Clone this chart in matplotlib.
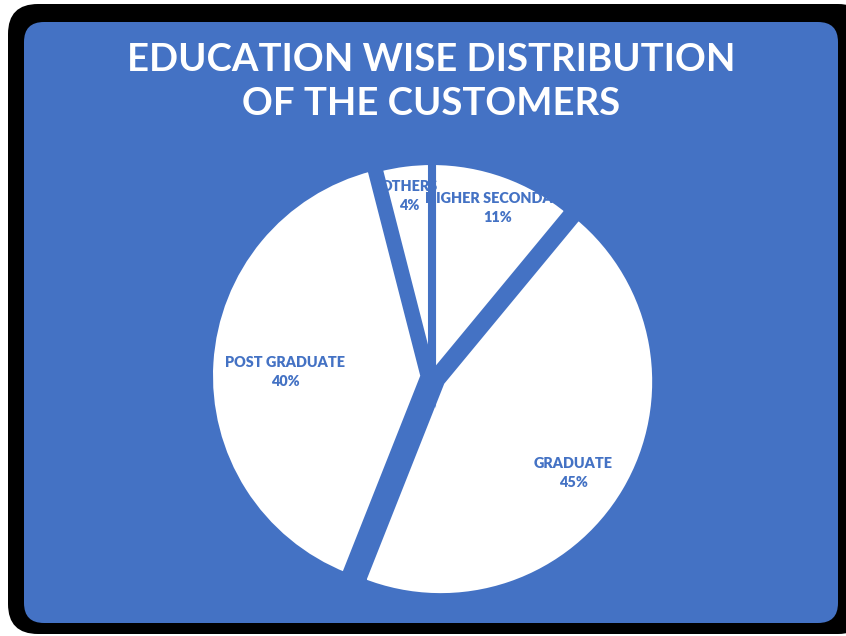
import numpy as np
import matplotlib
matplotlib.use('Agg')
import matplotlib.pyplot as plt
from matplotlib.patches import FancyBboxPatch

# data
categories = ['HIGHER SECONDARY', 'GRADUATE', 'POST GRADUATE', 'OTHERS']
shares = [11, 45, 40, 4]

BLUE = '#4472C4'
W, H = 846, 636

# per-slice offsets (fraction of radius), label distances and angle nudges
explode = [0.0, 0.047, 0.035, 0.0]
label_dist = [0.84, 0.746, 0.648, 0.845]
label_turn = [-1.6, -4.0, 2.0, 0.0]

fig = plt.figure(figsize=(W / 100, H / 100), dpi=100)
ax = fig.add_axes([0, 0, 1, 1])

# framed card: black rounded border with blue panel
ax.add_patch(FancyBboxPatch((8 + 30, 2 + 30), 860 - 60, 630 - 60,
                            boxstyle='round,pad=30', fc='black', ec='none'))
ax.add_patch(FancyBboxPatch((24 + 20, H - 623 + 20), 814 - 40, 601 - 40,
                            boxstyle='round,pad=20', fc=BLUE, ec='none'))

ax.text(431, H - 82, 'EDUCATION WISE DISTRIBUTION\nOF THE CUSTOMERS',
        ha='center', va='center', color='white', fontsize=27.5,
        fontweight='bold', family='Lato', linespacing=1.38)

R = 215.5
cx, cy = 432, H - 376.5
wedges, _ = ax.pie(shares, startangle=90, counterclock=False, radius=R,
                   center=(cx, cy), explode=[e * R for e in explode],
                   frame=True,
                   wedgeprops=dict(facecolor='white', edgecolor=BLUE,
                                   linewidth=5.8))

total = sum(shares)
for w, name, val, d, turn in zip(wedges, categories, shares,
                                 label_dist, label_turn):
    mid = np.radians((w.theta1 + w.theta2) / 2 + turn)
    x0, y0 = w.center
    ax.text(x0 + d * w.r * np.cos(mid), y0 + d * w.r * np.sin(mid),
            f'{name}\n{round(100 * val / total)}%', ha='center', va='center',
            color=BLUE, fontsize=10.4, fontweight='heavy', family='Lato',
            linespacing=1.5)

ax.set_xlim(0, W)
ax.set_ylim(0, H)
ax.set_aspect('auto')
ax.axis('off')

fig.savefig('out.png', dpi=100)
